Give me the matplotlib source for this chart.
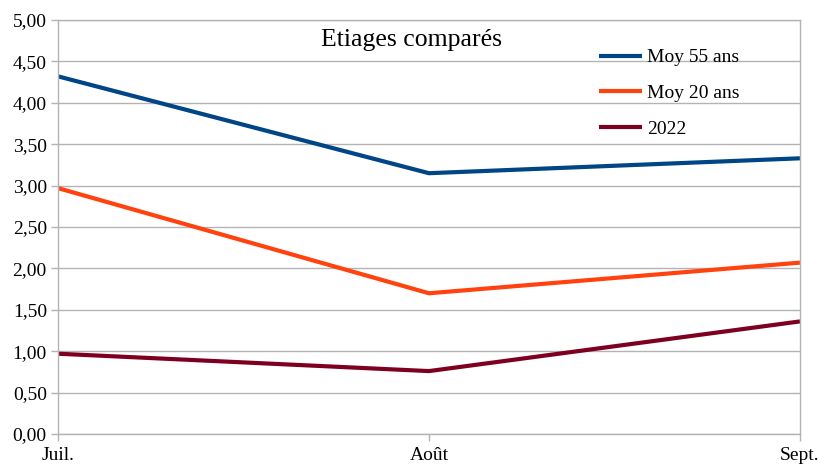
import matplotlib
matplotlib.use("Agg")
import matplotlib.pyplot as plt

# valeurs d'étiage (m3/s) par mois
mois = ["Juil.", "Août", "Sept."]
moy_55 = [4.32, 3.15, 3.33]
moy_20 = [2.97, 1.70, 2.07]
an_2022 = [0.97, 0.76, 1.36]

series = [
    ("Moy 55 ans", moy_55, "#004586"),
    ("Moy 20 ans", moy_20, "#ff420e"),
    ("2022", an_2022, "#7e0021"),
]

plt.rcParams["font.family"] = ["Liberation Serif", "DejaVu Serif"]

fig = plt.figure(figsize=(8.21, 4.68), dpi=100)
ax = fig.add_axes([0.0706, 0.0726, 0.9038, 0.8846])

x = list(range(len(mois)))
for nom, vals, coul in series:
    ax.plot(x, vals, color=coul, lw=3, label=nom, solid_capstyle="butt")

ax.set_xlim(0, 2)
ax.set_ylim(0, 5)
ax.set_yticks([i * 0.5 for i in range(11)])
ax.set_yticklabels([f"{i * 0.5:.2f}".replace(".", ",") for i in range(11)])
ax.set_xticks(x)
ax.set_xticklabels(mois)

ax.grid(axis="y", color="#b3b3b3", lw=1)
ax.set_axisbelow(True)
for sp in ax.spines.values():
    sp.set_color("#b3b3b3")
    sp.set_linewidth(1)
ax.tick_params(colors="#b3b3b3", labelcolor="black", labelsize=14, length=5, width=1)
ax.tick_params(axis="y", pad=3)
ax.tick_params(axis="x", pad=4)

ax.text(0.476, 0.952, "Etiages comparés", transform=ax.transAxes,
        ha="center", va="center", fontsize=18.5)

ax.legend(loc="upper left", bbox_to_anchor=(0.706, 0.973), frameon=False,
          fontsize=14, handlelength=2.2, handletextpad=0.26, labelspacing=0.93)

fig.savefig("out.png", dpi=100)
